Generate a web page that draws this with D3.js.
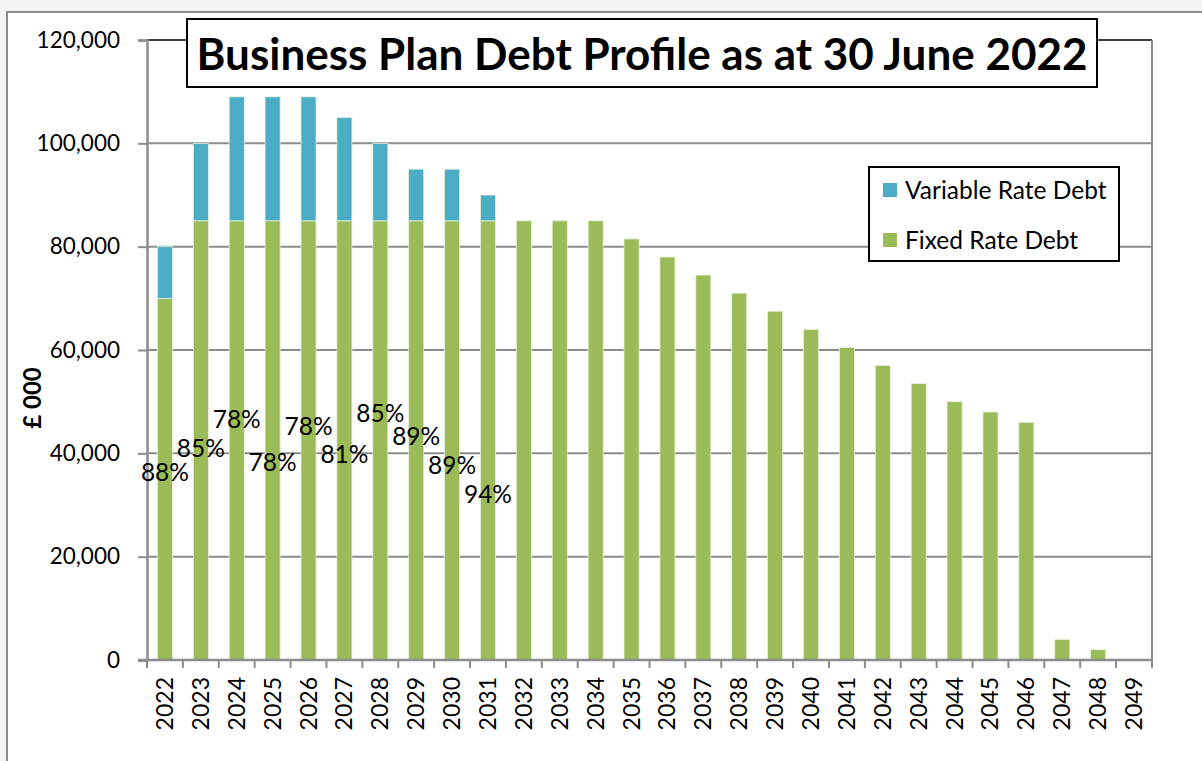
<!DOCTYPE html>
<html>
<head>
<meta charset="utf-8">
<script src="https://cdn.jsdelivr.net/npm/d3@7/dist/d3.min.js"></script>
<style>
  html, body { margin: 0; padding: 0; background: #f4f4f4; }
  svg { display: block; }
  text { font-family: Lato, "Open Sans", sans-serif; fill: #000; }
</style>
</head>
<body>
<svg id="chart" width="1202" height="761"></svg>
<script>
// Debt profile by year, £000
const years = d3.range(2022, 2050).map(String);
const fixedRate = [70000, 85000, 85000, 85000, 85000, 85000, 85000, 85000, 85000, 85000,
                   85000, 85000, 85000, 81500, 78000, 74500, 71000, 67500, 64000, 60500,
                   57000, 53500, 50000, 48000, 46000, 4000, 2000, 0];
const variableRate = [10000, 15000, 24000, 24000, 24000, 20000, 15000, 10000, 10000, 5000,
                      0, 0, 0, 0, 0, 0, 0, 0, 0, 0, 0, 0, 0, 0, 0, 0, 0, 0];
// Height (in £000) at which each fixed-share label sits
const shareLabelAt = [36400, 41000, 46500, 38300, 45300, 39700, 47800, 43200, 37700, 32100];
const yTicks = [0, 20000, 40000, 60000, 80000, 100000, 120000];
const seriesNames = ["Variable Rate Debt", "Fixed Rate Debt"];
const seriesColors = ["#4bacc6", "#9bbb59"];
const titleText = "Business Plan Debt Profile as at 30 June 2022";
const yTitle = "£ 000";

const svg = d3.select("#chart");
const plot = { left: 147, right: 1152, top: 40, bottom: 660 };

// chart area
svg.append("rect").attr("x", 7).attr("y", 12).attr("width", 1220).attr("height", 780)
  .attr("fill", "#fff").attr("stroke", "#8c8c8c").attr("stroke-width", 2);

const x = d3.scaleBand().domain(years).range([plot.left, plot.right])
  .paddingInner(0.58).paddingOuter(0.29);
const y = d3.scaleLinear().domain([0, 120000]).range([plot.bottom, plot.top]);

// gridlines
svg.append("g").selectAll("line").data(yTicks.filter(v => v > 0 && v < 120000)).join("line")
  .attr("x1", plot.left).attr("x2", plot.right)
  .attr("y1", d => y(d)).attr("y2", d => y(d))
  .attr("stroke", "#8c8c8c").attr("stroke-width", 2);
svg.append("line").attr("x1", plot.left).attr("x2", plot.right)
  .attr("y1", y(120000)).attr("y2", y(120000))
  .attr("stroke", "#000").attr("stroke-width", 1.5);
svg.append("line").attr("x1", plot.right).attr("x2", plot.right)
  .attr("y1", plot.top).attr("y2", plot.bottom)
  .attr("stroke", "#8c8c8c").attr("stroke-width", 2);

// stacked bars
const rows = years.map((yr, i) => ({ year: yr, fixed: fixedRate[i], variable: variableRate[i] }));
const stack = d3.stack().keys(["fixed", "variable"])(rows);
const colorOf = { fixed: seriesColors[1], variable: seriesColors[0] };
svg.append("g").selectAll("g").data(stack).join("g")
  .attr("fill", d => colorOf[d.key])
  .selectAll("rect").data(d => d.filter(p => p[1] > p[0])).join("rect")
  .attr("x", d => x(d.data.year))
  .attr("width", x.bandwidth())
  .attr("y", d => y(d[1]))
  .attr("height", d => y(d[0]) - y(d[1]))
  .attr("stroke", "#e8f0dc").attr("stroke-width", 0.8);

// y axis
const yAxis = d3.axisLeft(y).tickValues(yTicks).tickSize(9).tickPadding(18)
  .tickFormat(d3.format(","));
const gy = svg.append("g").attr("transform", `translate(${plot.left},0)`).call(yAxis);
gy.select(".domain").attr("stroke", "#8c8c8c").attr("stroke-width", 2.5);
gy.selectAll(".tick line").attr("stroke", "#8c8c8c").attr("stroke-width", 2);
gy.selectAll(".tick text").style("font-size", "22.5px").attr("fill", "#000");

// x axis: ticks on category boundaries
const gx = svg.append("g").attr("transform", `translate(0,${plot.bottom})`);
gx.append("line").attr("x1", plot.left - 9).attr("x2", plot.right)
  .attr("stroke", "#8c8c8c").attr("stroke-width", 2.5);
const step = x.step();
const boundaries = years.map(yr => x(yr) - x.paddingInner() * step / 2)
  .concat([plot.right]);
gx.selectAll(".b").data(boundaries).join("line")
  .attr("x1", d => d).attr("x2", d => d).attr("y1", 0).attr("y2", 8)
  .attr("stroke", "#8c8c8c").attr("stroke-width", 2);
gx.selectAll("text").data(years).join("text")
  .attr("transform", d => `translate(${x(d) + x.bandwidth() / 2 + 8},17) rotate(-90)`)
  .attr("text-anchor", "end")
  .style("font-size", "23px")
  .text(d => d);

// fixed-rate share labels
svg.append("g").selectAll("text").data(shareLabelAt).join("text")
  .attr("x", (d, i) => x(years[i]) + x.bandwidth() / 2)
  .attr("y", d => y(d))
  .attr("dy", "0.35em")
  .attr("text-anchor", "middle")
  .style("font-size", "24.5px")
  .text((d, i) => d3.format(".0%")(fixedRate[i] / (fixedRate[i] + variableRate[i])));

// y-axis title
svg.append("text")
  .attr("transform", "translate(41,398) rotate(-90)")
  .attr("text-anchor", "middle")
  .style("font-size", "24px").style("font-weight", "bold")
  .text(yTitle);

// title box
const tb = { x: 187, y: 19, w: 910, h: 68 };
svg.append("rect").attr("x", tb.x).attr("y", tb.y).attr("width", tb.w).attr("height", tb.h)
  .attr("fill", "#fff").attr("stroke", "#000").attr("stroke-width", 2);
svg.append("text").attr("x", tb.x + tb.w / 2).attr("y", 70)
  .attr("text-anchor", "middle")
  .style("font-size", "44px").style("font-weight", "bold")
  .text(titleText);

// legend
const lg = svg.append("g");
lg.append("rect").attr("x", 869).attr("y", 167).attr("width", 250).attr("height", 94)
  .attr("fill", "#fff").attr("stroke", "#000").attr("stroke-width", 2);
const items = lg.selectAll("g").data(seriesNames).join("g")
  .attr("transform", (d, i) => `translate(883,${183 + i * 50})`);
items.append("rect").attr("width", 14).attr("height", 14).attr("fill", (d, i) => seriesColors[i]);
items.append("text").attr("x", 22).attr("y", 7).attr("dy", "0.35em")
  .style("font-size", "24.5px").text(d => d);
</script>
</body>
</html>
